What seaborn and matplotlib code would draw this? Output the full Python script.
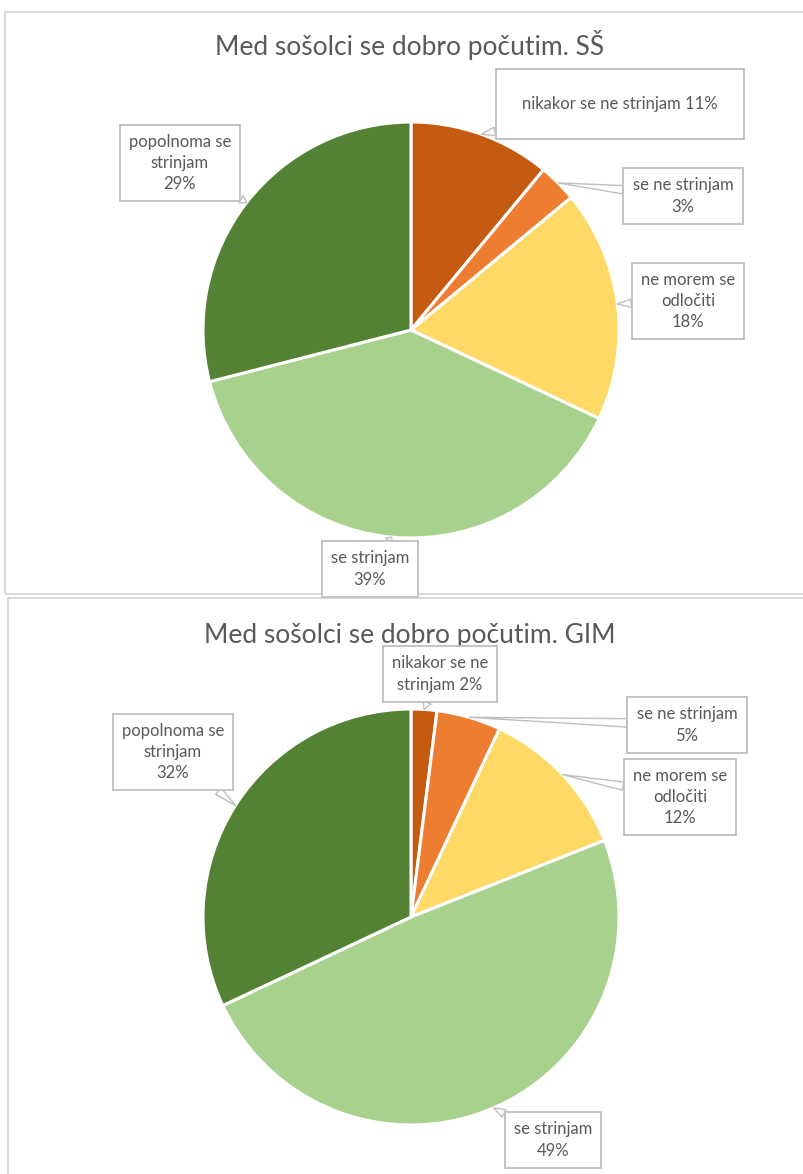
import numpy as np
import matplotlib
matplotlib.use("Agg")
import matplotlib.pyplot as plt
from matplotlib.patches import Rectangle
import seaborn as sns

sns.set_theme(style="white")
plt.rcParams["font.family"] = ["Lato", "DejaVu Sans"]

# data
categories = ["nikakor se ne strinjam", "se ne strinjam", "ne morem se odločiti",
              "se strinjam", "popolnoma se strinjam"]
ss_share = [11, 3, 18, 39, 29]
gim_share = [2, 5, 12, 49, 32]
ss_labels = ["nikakor se ne strinjam ", "se ne strinjam\n", "ne morem se\nodločiti\n",
             "se strinjam\n", "popolnoma se\nstrinjam\n"]
gim_labels = ["nikakor se ne\nstrinjam ", "se ne strinjam\n", "ne morem se\nodločiti\n",
              "se strinjam\n", "popolnoma se\nstrinjam\n"]
titles = ["Med sošolci se dobro počutim. SŠ", "Med sošolci se dobro počutim. GIM"]

colors = sns.color_palette(["#C55A11", "#ED7D31", "#FFD966", "#A9D18E", "#548235"])
TEXT = "#595959"
BOX = "#BFBFBF"

W, H = 804, 1174
fig = plt.figure(figsize=(W / 100, H / 100), dpi=100)
ax = fig.add_axes([0, 0, 1, 1])


def up(y):
    return H - y


# panel frames
ax.add_patch(Rectangle((5, up(594)), 820, 582, fill=False, ec="#D9D9D9", lw=1.5))
ax.add_patch(Rectangle((8, up(1190)), 820, 592, fill=False, ec="#D9D9D9", lw=1.5))

charts = [
    dict(share=ss_share, labels=ss_labels, title=titles[0], center=(411, 330), title_y=45,
         boxes=[(620, 104), (683, 196), (688, 301), (370, 569), (180, 163)],
         pads=[1.6, 0.55, 0.55, 0.55, 0.55]),
    dict(share=gim_share, labels=gim_labels, title=titles[1], center=(411, 917), title_y=636,
         boxes=[(440, 674), (687, 725), (680, 797), (553, 1140), (173, 752)],
         pads=[0.55] * 5),
]
R = 208

for ch in charts:
    cx, cy = ch["center"]
    wedges, _ = ax.pie(ch["share"], colors=colors, startangle=90, counterclock=False,
                       center=(cx, up(cy)), radius=R,
                       wedgeprops=dict(edgecolor="white", linewidth=2.2))
    ax.text(W / 2 + 8, up(ch["title_y"]), ch["title"], ha="center", va="center",
            fontsize=19, color=TEXT)
    for w, lab, val, (bx, by), pad in zip(wedges, ch["labels"], ch["share"],
                                          ch["boxes"], ch["pads"]):
        mid = np.deg2rad((w.theta1 + w.theta2) / 2)
        tip = (cx + R * np.cos(mid), up(cy) + R * np.sin(mid))
        ax.annotate(f"{lab}{val}%", xy=tip, xytext=(bx, up(by)), ha="center", va="center",
                    fontsize=12, color=TEXT, linespacing=1.4, zorder=5,
                    bbox=dict(boxstyle=f"square,pad={pad}", fc="white", ec=BOX, lw=1.3),
                    arrowprops=dict(arrowstyle="wedge,tail_width=0.5,shrink_factor=0.5",
                                    fc="white", ec=BOX, lw=1.0, shrinkA=0, shrinkB=0))

ax.set_xlim(0, W)
ax.set_ylim(0, H)
ax.set_aspect("auto")
ax.axis("off")

fig.savefig("out.png", dpi=100)
